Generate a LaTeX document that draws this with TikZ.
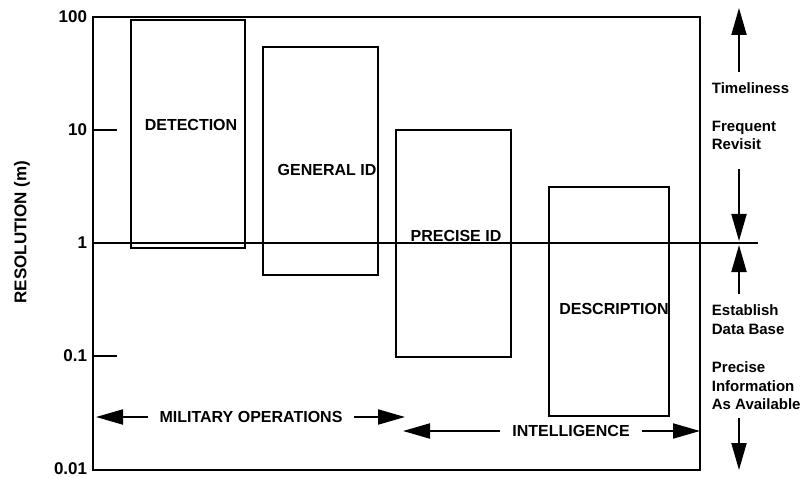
\documentclass[tikz,border=0pt]{standalone}
\usepackage{fontspec}
\setmainfont{Liberation Sans}
\usetikzlibrary{arrows.meta}
\begin{document}
\begin{tikzpicture}[x=1pt,y=-1pt,line width=1.8pt,
 lbl/.style={font=\fontsize{16}{18}\selectfont\bfseries,inner sep=0pt},
 note/.style={font=\fontsize{15}{18.5}\selectfont\bfseries,align=left,anchor=north west,inner sep=0pt},
 big/.style={line width=2pt,-{Triangle[length=27pt,width=15pt]}}]
\useasboundingbox (0,0) rectangle (805,478);
\draw[line width=2.4pt] (93,17) rectangle (700,470);
\foreach \y/\t [count=\i] in {17/100,130/10,243/1,356/0.1,469/0.01}
 \node[lbl,font=\fontsize{17}{18}\selectfont\bfseries,anchor=east] (tk\i) at (88,\y) {\t};
\draw (93,130) -- (117,130);
\draw (93,356) -- (117,356);
\node[lbl,font=\fontsize{17}{18}\selectfont\bfseries,rotate=90] (ylab) at (22,232) {RESOLUTION (m)};
\draw (131,20) rectangle (245,248);
\draw (263,47) rectangle (378,275);
\draw (396,130) rectangle (511,357);
\draw (549,187) rectangle (669,416);
\draw (93,243) -- (758,243);
\node[lbl] (det) at (191,125) {DETECTION};
\node[lbl] (gen) at (327,170) {GENERAL ID};
\node[lbl,anchor=base] (pre) at (456,242) {PRECISE ID};
\node[lbl] (des) at (614,309) {DESCRIPTION};
\node[lbl,inner xsep=11pt] (mil) at (251,417) {MILITARY OPERATIONS};
\coordinate (milL) at (96,417);
\coordinate (milR) at (405,417);
\draw[big] (mil) -- (milL);
\draw[big] (mil) -- (milR);
\node[lbl,inner xsep=11pt] (int) at (571,431) {INTELLIGENCE};
\coordinate (intL) at (403,431);
\coordinate (intR) at (700,431);
\draw[big] (int) -- (intL);
\draw[big] (int) -- (intR);
\node[note] (tim) at (711,82) {Timeliness};
\node[note] (frq) at (711,120) {Frequent\\Revisit};
\node[note] (est) at (711,304) {Establish\\Data Base};
\node[note] (pia) at (711,361) {Precise\\Information\\As Available};
\coordinate (tU) at (739,8);
\coordinate (tD) at (739,241);
\coordinate (eU) at (739,245);
\coordinate (eD) at (739,470);
\draw[big] (tim.north -| tU) ++(0,-10) -- (tU);
\draw[big] (frq.south -| tD) ++(0,18) -- (tD);
\draw[big] (est.north -| eU) ++(0,-10) -- (eU);
\draw[big] (pia.south -| eD) ++(0,7) -- (eD);
\end{tikzpicture}
\end{document}
